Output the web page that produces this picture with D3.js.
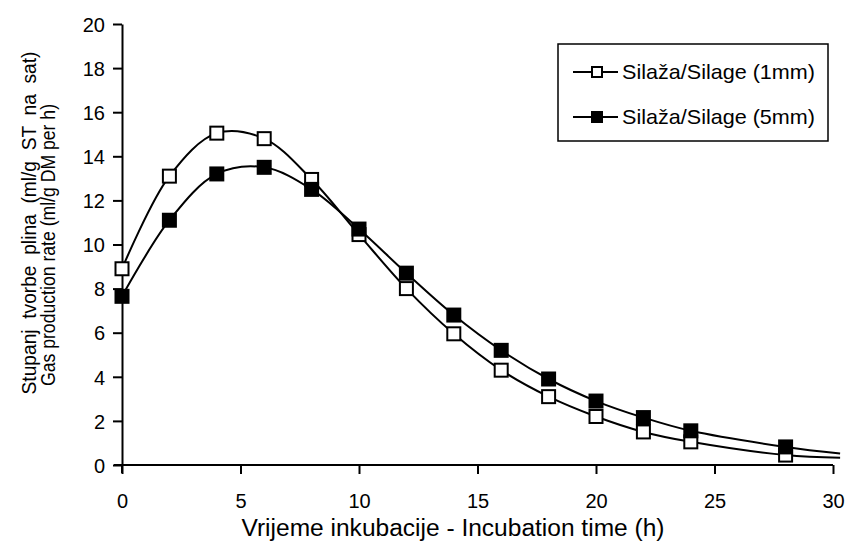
<!DOCTYPE html>
<html>
<head>
<meta charset="utf-8">
<script src="https://cdn.jsdelivr.net/npm/d3@7"></script>
<style>
  body { margin: 0; background: #fff; }
  svg { font-family: "Liberation Sans", Arial, sans-serif; }
  .axis path, .axis line { stroke: #000; stroke-width: 2; }
  .axis text { font-size: 20px; fill: #000; }
</style>
</head>
<body>
<svg width="848" height="541"></svg>
<script>
// measured incubation times (h)
const hours = [0, 2, 4, 6, 8, 10, 12, 14, 16, 18, 20, 22, 24, 28];
// gas production rate, silage 1mm (open squares)
const silage1mm = [8.9, 13.1, 15.05, 14.8, 12.95, 10.45, 8.0, 5.95, 4.3, 3.1, 2.2, 1.5, 1.05, 0.45];
// gas production rate, silage 5mm (filled squares)
const silage5mm = [7.65, 11.1, 13.2, 13.5, 12.5, 10.7, 8.7, 6.8, 5.2, 3.9, 2.9, 2.15, 1.55, 0.82];
// fitted curve runs on past the last sample to the axis end
const curveEndX = 30.3;
const curveEnd1mm = 0.33;
const curveEnd5mm = 0.52;

const xTicks = [0, 5, 10, 15, 20, 25, 30];
const yTicks = [0, 2, 4, 6, 8, 10, 12, 14, 16, 18, 20];

const seriesNames = ['Silaža/Silage (1mm)', 'Silaža/Silage (5mm)'];

const svg = d3.select('svg');

const x = d3.scaleLinear().domain([0, 30]).range([122, 833]);
const y = d3.scaleLinear().domain([0, 20]).range([465, 24]);

// x axis (starts a bit left of the y axis like the original)
svg.append('line')
  .attr('x1', 114).attr('x2', x(30))
  .attr('y1', y(0)).attr('y2', y(0))
  .attr('stroke', '#000').attr('stroke-width', 2);

const xAxis = svg.append('g')
  .attr('class', 'axis')
  .attr('transform', `translate(0,${y(0)})`)
  .call(d3.axisBottom(x).tickValues(xTicks).tickSize(9).tickSizeOuter(0).tickPadding(20));
xAxis.select('.domain').remove();

const yAxis = svg.append('g')
  .attr('class', 'axis')
  .attr('transform', `translate(${x(0)},0)`)
  .call(d3.axisLeft(y).tickValues(yTicks).tickSize(9).tickSizeOuter(0).tickPadding(8));
yAxis.selectAll('.tick text').attr('dy', '0.36em');
// y axis line pokes below zero
svg.append('line')
  .attr('x1', x(0)).attr('x2', x(0))
  .attr('y1', y(0)).attr('y2', y(0) + 8)
  .attr('stroke', '#000').attr('stroke-width', 2);

// axis titles
svg.append('text')
  .attr('x', 453)
  .attr('y', 536)
  .attr('text-anchor', 'middle')
  .style('font-size', '23px')
  .attr('textLength', 423)
  .attr('lengthAdjust', 'spacingAndGlyphs')
  .text('Vrijeme inkubacije - Incubation time (h)');

const yTitle = svg.append('g')
  .attr('transform', 'rotate(-90)');
yTitle.append('text')
  .attr('x', -223).attr('y', 36)
  .attr('text-anchor', 'middle')
  .style('font-size', '21px')
  .attr('textLength', 343)
  .attr('lengthAdjust', 'spacingAndGlyphs')
  .attr('xml:space', 'preserve')
  .text('Stupanj  tvorbe  plina  (ml/g  ST  na  sat)');
yTitle.append('text')
  .attr('x', -245).attr('y', 55)
  .attr('text-anchor', 'middle')
  .style('font-size', '21px')
  .attr('textLength', 282)
  .attr('lengthAdjust', 'spacingAndGlyphs')
  .text('Gas production rate (ml/g DM per h)');

const line = d3.line()
  .x(d => x(d[0]))
  .y(d => y(d[1]))
  .curve(d3.curveCatmullRom.alpha(0.5));

const series = [
  { vals: silage1mm, end: curveEnd1mm, fill: '#fff' },
  { vals: silage5mm, end: curveEnd5mm, fill: '#000' }
];

series.forEach(s => {
  const pts = hours.map((h, i) => [h, s.vals[i]]);
  svg.append('path')
    .datum(pts.concat([[curveEndX, s.end]]))
    .attr('d', line)
    .attr('fill', 'none')
    .attr('stroke', '#000')
    .attr('stroke-width', 2);
});

const ms = 13;
series.forEach(s => {
  svg.append('g').selectAll('rect')
    .data(hours.map((h, i) => [h, s.vals[i]]))
    .enter()
    .append('rect')
    .attr('x', d => x(d[0]) - ms / 2)
    .attr('y', d => y(d[1]) - ms / 2)
    .attr('width', ms)
    .attr('height', ms)
    .attr('fill', s.fill)
    .attr('stroke', '#000')
    .attr('stroke-width', 2);
});

// legend
const legend = svg.append('g');
legend.append('rect')
  .attr('x', 558).attr('y', 44)
  .attr('width', 270).attr('height', 97)
  .attr('fill', '#fff')
  .attr('stroke', '#000')
  .attr('stroke-width', 1.5);

const items = legend.selectAll('.item')
  .data(seriesNames)
  .enter()
  .append('g')
  .attr('class', 'item')
  .attr('transform', (d, i) => `translate(0,${72 + i * 45})`);

items.append('line')
  .attr('x1', 573).attr('x2', 618)
  .attr('stroke', '#000').attr('stroke-width', 2);
items.append('rect')
  .attr('x', 597 - 5).attr('y', -5)
  .attr('width', 10).attr('height', 10)
  .attr('fill', (d, i) => series[i].fill)
  .attr('stroke', '#000').attr('stroke-width', 2);
items.append('text')
  .attr('x', 622).attr('y', 0)
  .attr('dy', '0.35em')
  .style('font-size', '21px')
  .attr('textLength', 193)
  .attr('lengthAdjust', 'spacingAndGlyphs')
  .text(d => d);
</script>
</body>
</html>
